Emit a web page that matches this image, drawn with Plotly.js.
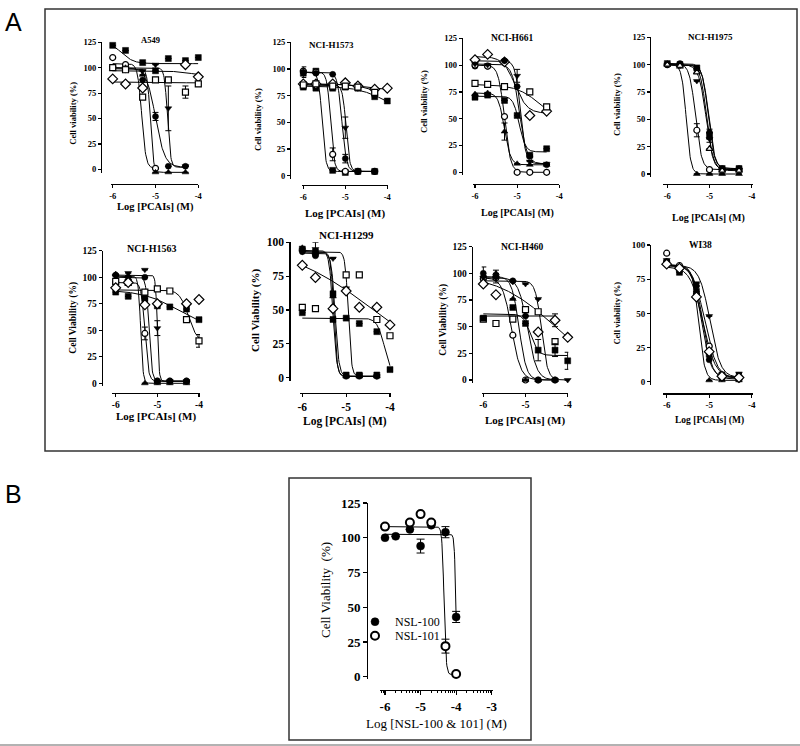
<!DOCTYPE html>
<html><head><meta charset="utf-8">
<script src="https://cdn.plot.ly/plotly-3.0.1.min.js"></script>
<style>html,body{margin:0;padding:0;background:#fff}#chart{width:800px;height:746px}</style>
</head><body><div id="chart"></div>
<script>
// ---------------- DATA ----------------
const N = null;
const doses = [-6, -5.7, -5.3, -5, -4.7, -4.3, -4];
const xTickVals = [-6, -5, -4];
const xTickText = ['-6', '-5', '-4'];
const xTickValsB = [-6, -5, -4, -3];
const xTickTextB = ['-6', '-5', '-4', '-3'];
const yTickVals125 = [0, 25, 50, 75, 100, 125];
const yTickText125 = ['0', '25', '50', '75', '100', '125'];
const yTickVals100 = [0, 25, 50, 75, 100];
const yTickText100 = ['0', '25', '50', '75', '100'];
const panelTitles = ['A549', 'NCI-H1573', 'NCI-H661', 'NCI-H1975', 'NCI-H1563', 'NCI-H1299', 'NCI-H460', 'WI38'];
const yTitles = ['Cell viability (%)', 'Cell viability (%)', 'Cell viability (%)', 'Cell viability (%)',
                 'Cell Viability (%)', 'Cell Viability (%)', 'Cell Viability (%)', 'Cell viability (%)'];
const xTitleA = 'Log [PCAIs] (M)';
const xTitleB = 'Log [NSL-100 & 101] (M)';
const yTitleB = 'Cell Viability  (%)';
const seriesB = ['NSL-100', 'NSL-101'];

// fit parameters: [top, bottom, logIC50, hill]
const A549_y = [[122,117,105,97,109,107,110],[110,103,80,1,N,N,N],[99,100,93,-3,-3,-3,N],[100,98,88,52,3,3,N],
                [100,100,97,103,60,3,N],[89,84,80,N,N,103,91],[100,98,71,88,88,76,84]];
const A549_err = [[N,N,N,N,N,N,N],[N,N,N,N,N,N,N],[N,N,N,N,N,N,N],[N,N,N,4,N,N,N],
                  [N,N,N,N,22,N,N],[N,N,N,N,N,N,N],[N,N,N,N,N,6,N]];
const A549_fit = [[126,104,-5.8,3],[104,1,-5.32,9],[99,-3,-5.12,12],[100,2,-5.0,4],
                  [100,2,-4.72,12],[97,92,-4.2,2],[86,85,-5,1]];
const A549_sym = ['fsq','oci','ftu','fci','ftd','odi','osq'];

const H1573_y = [[96,98,5,3,4,4,N],[98,97,20,4,4,4,N],[97,96,95,16,4,4,N],[85,85,85,45,4,4,N],
                 [83,82,82,83,82,74,70],[86,86,86,87,84,81,82],[85,86,84,84,83,78,N]];
const H1573_err = [[N,N,N,N,N,N,N],[N,N,6,N,N,N,N],[5,N,N,4,N,N,N],[N,N,N,10,N,N,N],
                   [N,N,N,N,N,N,N],[N,N,N,N,N,N,N],[N,N,N,N,N,N,N]];
const H1573_fit = [[97,4,-5.55,10],[97,4,-5.35,10],[97,4,-5.08,8],[85,4,-4.98,10],
                   [84,55,-4.0,1.2],[86,80,-4.5,1.5],[86,76,-4.4,2]];
const H1573_sym = ['fsq','oci','fci','ftd','fsq','odi','osq'];

const H661_y = [[105,110,103,N,53,57,N],[99,99,104,80,15,7,N],[83,82,80,N,75,61,N],[70,72,67,53,16,22,N],
                [73,74,38,8,7,7,N],[100,99,52,0,0,0,N],[101,100,104,90,10,8,N]];
const H661_err = [[N,N,N,N,N,N,N],[N,N,N,N,N,N,N],[N,N,N,N,N,N,N],[N,N,N,N,N,N,N],
                  [N,N,8,N,N,N,N],[N,N,N,N,N,N,N],[N,N,N,6,N,N,N]];
const H661_fit = [[108,55,-5.05,3],[101,8,-4.94,5],[82,45,-4.45,1.5],[71,19,-4.95,6],
                  [74,7,-5.3,6],[100,0,-5.3,6],[104,8,-4.92,7]];
const H661_sym = ['odi','fci','osq','fsq','ftu','oci','ftd'];

const H1975_y = [[101,98,0,0,0,0,N],[100,100,40,4,4,4,N],[100,99,85,32,4,4,N],[101,100,97,35,5,5,N],
                 [100,101,96,38,5,5,N],[100,99,93,23,3,3,N]];
const H1975_err = [[N,N,N,N,N,N,N],[N,N,6,N,N,N,N],[N,N,N,N,N,N,N],[N,N,N,6,N,N,N],
                   [N,N,N,N,N,N,N],[N,N,N,N,N,N,N]];
const H1975_fit = [[100,0,-5.55,8],[101,4,-5.33,6],[100,4,-5.07,6],[101,5,-5.03,6],
                   [100,5,-5.02,6],[100,3,-5.08,5]];
const H1975_sym = ['ftu','oci','ftd','fsq','fci','otu'];

const H1563_y = [[103,101,0,0,0,0,N],[95,95,47,2,2,2,N],[102,100,100,2,2,2,N],[101,104,107,52,2,2,N],
                 [86,82,80,73,72,70,60],[96,95,86,89,87,60,40],[90,95,74,75,N,75,79]];
const H1563_err = [[N,N,N,N,N,N,N],[N,N,6,N,N,N,N],[N,N,N,N,N,N,N],[N,N,N,7,N,N,N],
                   [N,N,N,N,N,N,N],[N,N,N,N,N,N,6],[N,N,N,N,N,N,N]];
const H1563_fit = [[101,0,-5.4,15],[95,2,-5.3,10],[100,2,-5.2,12],[102,2,-5.0,20],
                   [88,50,-4.5,1],[88,38,-4.25,4],N];
const H1563_sym = ['ftu','oci','fci','ftd','fsq','osq','odi'];

const H1299_y = [[95,93,62,2,2,2,N],[93,95,88,66,2,1,N],[96,92,60,1,1,1,N],[93,90,52,1,1,1,N],
                 [83,74,51,64,52,52,39],[52,51,N,76,76,43,31],[48,N,43,44,40,34,6]];
const H1299_err = [[N,N,N,N,N,N,N],[N,5,N,N,N,N,N],[N,N,N,N,N,N,N],[N,N,N,N,N,N,N],
                   [N,N,N,N,N,N,N],[N,N,N,N,N,N,N],[N,N,N,N,N,N,N]];
const H1299_fit = [[94,1,-5.3,10],[93,1,-4.95,12],[93,1,-5.28,12],[92,1,-5.25,10],
                   [100,0,-4.37,0.42],N,[44,0,-4.12,5]];
const H1299_sym = ['fsq','ftd','ftu','fci','odi','osq','fsq'];

const H460_y = [[95,96,42,0,0,0,N],[98,100,76,0,0,0,N],[100,97,93,60,0,0,N],[57,53,57,66,64,36,N],
                [58,N,68,53,28,28,18],[96,96,92,90,76,0,0],[90,80,N,N,45,56,40]];
const H460_err = [[N,N,N,N,N,N,N],[N,N,N,N,N,N,N],[6,6,N,N,N,N,N],[N,N,N,N,N,N,N],
                  [N,N,N,N,10,6,8],[N,N,N,N,N,N,N],[N,N,N,N,N,6,N]];
const H460_fit = [[96,0,-5.33,4],[97,0,-5.15,5],[96,0,-4.95,4],[60,60,-5,1],
                  [62,23,-4.88,5],[93,0,-4.62,6],[100,0,-4.29,0.62]];
const H460_sym = ['oci','ftu','fci','osq','fsq','ftd','odi'];

const WI38_y = [[94,85,64,26,3,2,N],[88,82,63,1,1,1,N],[89,84,72,48,5,6,N],[88,82,70,16,3,2,N],
                [87,80,66,20,5,3,N],[86,83,62,22,4,3,N]];
const WI38_err = [[N,N,N,N,N,N,N],[N,N,N,N,N,N,N],[N,N,N,N,N,N,N],[N,N,N,N,N,N,N],
                  [N,N,N,N,N,N,N],[N,N,N,N,N,N,N]];
const WI38_fit = [[86,2,-5.1,3],[85,1,-5.25,6],[85,3,-4.98,3.5],[85,2,-5.15,4],
                  [85,3,-5.18,4],[84,3,-5.15,3]];
const WI38_sym = ['oci','ftu','ftd','fci','fsq','odi'];

const B_y = [[100,101,106,94,109,104,43],[108,N,111,117,111,22,2]];
const B_err = [[N,N,N,5,N,4,4],[N,N,N,N,N,5,N]];
const B_fit = [[102.5,0,-4.007,20],[108,1.5,-4.34,15]];
const B_sym = ['fci','oci'];

// ---------------- STYLE / GEOMETRY ----------------
const W = 800, H = 746;
const SERIF = 'Liberation Serif, Times New Roman, serif';
const SANS = 'Liberation Sans, Arial, sans-serif';
const SYM = {
  fsq:{symbol:'square', fill:'#000'}, osq:{symbol:'square', fill:'#fff'},
  fci:{symbol:'circle', fill:'#000'}, oci:{symbol:'circle', fill:'#fff'},
  ftu:{symbol:'triangle-up', fill:'#000'}, otu:{symbol:'triangle-up', fill:'#fff'},
  ftd:{symbol:'triangle-down', fill:'#000'}, odi:{symbol:'diamond', fill:'#fff'}
};
const PANELS = [
  {y:A549_y, e:A549_err, fit:A549_fit, s:A549_sym,
   g:{yx:101, ytop:42.3, y0:169.3, ybot:173, xly:184, xs:111, xe:198.3, xa:112.7, xb:198.3, top:125},
   f:{tick:8.5, xt:10.5, yt:8.5, pt:8.5}, t:{yx:72.7, yy:113, xx:155.5, xy:207, px:150, py:40}},
  {y:H1573_y, e:H1573_err, fit:H1573_fit, s:H1573_sym,
   g:{yx:290, ytop:42.3, y0:175.7, ybot:178.5, xly:185, xs:301.7, xe:388, xa:303.3, xb:387.3, top:125},
   f:{tick:8.5, xt:11, yt:8.5, pt:9}, t:{yx:258, yy:120, xx:345, xy:213, px:331.7, py:45}},
  {y:H661_y, e:H661_err, fit:H661_fit, s:H661_sym,
   g:{yx:461.7, ytop:38.3, y0:172.3, ybot:175, xly:184, xs:473, xe:559.3, xa:475, xb:559.3, top:125},
   f:{tick:8.5, xt:10, yt:8.5, pt:9.5}, t:{yx:424, yy:102, xx:517, xy:213, px:511.7, py:38}},
  {y:H1975_y, e:H1975_err, fit:H1975_fit, s:H1975_sym,
   g:{yx:650, ytop:37.3, y0:174, ybot:177, xly:184, xs:663, xe:752.7, xa:667.3, xb:751.7, top:125},
   f:{tick:8.5, xt:10, yt:8.5, pt:9}, t:{yx:617, yy:105, xx:708, xy:218, px:710, py:36.7}},
  {y:H1563_y, e:H1563_err, fit:H1563_fit, s:H1563_sym,
   g:{yx:101.7, ytop:250.7, y0:383.3, ybot:386, xly:392.7, xs:111.7, xe:200, xa:115.7, xb:199, top:125},
   f:{tick:9.5, xt:11, yt:9.5, pt:10}, t:{yx:72.7, yy:318, xx:156, xy:416.7, px:151.7, py:248.3}},
  {y:H1299_y, e:H1299_err, fit:H1299_fit, s:H1299_sym,
   g:{yx:289.3, ytop:242.3, y0:377.7, ybot:381, xly:392.7, xs:300, xe:390.7, xa:302.3, xb:390, top:100},
   f:{tick:11.5, xt:11.5, yt:11, pt:11}, t:{yx:255, yy:310, xx:345, xy:421.7, px:346.7, py:235}},
  {y:H460_y, e:H460_err, fit:H460_fit, s:H460_sym,
   g:{yx:471.7, ytop:246.7, y0:380, ybot:383, xly:392.7, xs:481.7, xe:568.3, xa:483.3, xb:567.7, top:125},
   f:{tick:9.5, xt:11, yt:9.5, pt:9.5}, t:{yx:442.7, yy:320, xx:525, xy:420, px:521.7, py:247.3}},
  {y:WI38_y, e:WI38_err, fit:WI38_fit, s:WI38_sym,
   g:{yx:650, ytop:245, y0:381.7, ybot:385, xly:393.3, xs:663.3, xe:752.7, xa:666.7, xb:751.7, top:100},
   f:{tick:9, xt:9.5, yt:8.5, pt:9.5}, t:{yx:617.3, yy:313.3, xx:709, xy:420, px:700, py:245}}
];
const PB = {y:B_y, e:B_err, fit:B_fit, s:B_sym,
   g:{yx:367, ytop:503, y0:676.7, ybot:678.5, xly:690, xs:380, xe:493, xa:385, xb:491.7, va:-6, vb:-3, top:125},
   f:{tick:13, xt:13, yt:13}, t:{yx:325, yy:590, xx:436, xy:723}};

// ---------------- BUILD ----------------
const px2x = p => p / W;
const px2y = p => 1 - p / H;
function fourPL(p, x) { return p[1] + (p[0] - p[1]) / (1 + Math.pow(10, (x - p[2]) * p[3])); }

const legendStyle = (ypx) => ({x:px2x(355), y:px2y(ypx), xanchor:'left', yanchor:'middle',
  bgcolor:'rgba(0,0,0,0)', borderwidth:0, font:{family:SERIF, size:12, color:'#000'}, itemwidth:30});

const traces = [];
const layout = {
  width: W, height: H, margin:{l:0, r:0, t:0, b:0},
  paper_bgcolor:'#fff', plot_bgcolor:'rgba(0,0,0,0)',
  showlegend:true, annotations:[], shapes:[],
  legend: legendStyle(621.7),
  legend2: legendStyle(635.7)
};

function addPanel(P, k, opts) {
  const g = P.g;
  const va = g.va !== undefined ? g.va : -6, vb = g.vb !== undefined ? g.vb : -4;
  const ppx = (g.xb - g.xa) / (vb - va);
  const xr = [va - (g.xa - g.xs) / ppx, vb + (g.xe - g.xb) / ppx];
  const ppy = (g.y0 - g.ytop) / g.top;
  const yr = [-(g.ybot - g.y0) / ppy, g.top];
  const xn = 'xaxis' + (k > 1 ? k : ''), yn = 'yaxis' + (k > 1 ? k : '');
  const xid = 'x' + (k > 1 ? k : ''), yid = 'y' + (k > 1 ? k : '');
  const tickFont = {family:SERIF, size:P.f.tick, color:'#000', weight:'bold'};
  layout[xn] = {domain:[px2x(g.xs), px2x(g.xe)], range:xr, anchor:'free', position:px2y(g.xly),
    showline:true, linecolor:'#000', linewidth:1.3, ticks:'outside', ticklen:opts.ticklen, tickwidth:1.2,
    tickcolor:'#000', tickmode:'array', tickvals:opts.xtv, ticktext:opts.xtt, tickfont:tickFont,
    showgrid:false, zeroline:false, fixedrange:true};
  if (opts.minor) layout[xn].minor = opts.minor;
  layout[yn] = {domain:[px2y(g.ybot), px2y(g.ytop)], range:yr, anchor:'free', position:px2x(g.yx),
    showline:true, linecolor:'#000', linewidth:1.3, ticks:'outside', ticklen:opts.ticklen, tickwidth:1.2,
    tickcolor:'#000', tickmode:'array', tickvals:g.top === 100 ? yTickVals100 : yTickVals125,
    ticktext:g.top === 100 ? yTickText100 : yTickText125, tickfont:tickFont,
    showgrid:false, zeroline:false, fixedrange:true};
  P.y.forEach((ys, i) => {
    const p = P.fit[i];
    if (!p) return;
    const idx = ys.map((v, j) => v === null ? -1 : j).filter(j => j >= 0);
    const x0 = doses[idx[0]], x1 = doses[idx[idx.length - 1]];
    const cx = [], cy = [];
    for (let x = x0; x <= x1 + 1e-9; x += 0.01) { cx.push(x); cy.push(fourPL(p, x)); }
    traces.push({type:'scatter', mode:'lines', x:cx, y:cy, xaxis:xid, yaxis:yid,
      line:{color:'#000', width:1}, showlegend:false, hoverinfo:'skip'});
  });
  P.y.forEach((ys, i) => {
    const st = SYM[P.s[i]];
    const tr = {type:'scatter', mode:'markers', x:doses, y:ys, xaxis:xid, yaxis:yid, cliponaxis:false,
      marker:{symbol:st.symbol, size:(P.s[i] === 'odi' ? opts.ms + 1.5 : opts.ms), color:st.fill,
              line:{color:'#000', width:st.fill === '#fff' ? opts.ow : 0.5}},
      error_y:{type:'data', array:P.e[i], visible:true, color:'#000', thickness:1, width:opts.cap},
      showlegend:false, hoverinfo:'skip'};
    if (opts.names) { tr.name = opts.names[i]; tr.showlegend = true; tr.legend = i === 0 ? 'legend' : 'legend2'; }
    traces.push(tr);
  });
  const t = P.t;
  const ann = (x, y, text, size, bold, angle) => layout.annotations.push({xref:'paper', yref:'paper',
    x:px2x(x), y:px2y(y), text:text, showarrow:false, xanchor:'center', yanchor:'middle', textangle:angle || 0,
    font:{family:SERIF, size:size, color:'#000', weight:bold ? 'bold' : 'normal'}});
  ann(t.yx, t.yy, opts.ytitle, P.f.yt, opts.bold, -90);
  ann(t.xx, t.xy, opts.xtitle, P.f.xt, opts.bold, 0);
  if (opts.ptitle) ann(t.px, t.py, opts.ptitle, P.f.pt, true, 0);
}

PANELS.forEach((P, i) => addPanel(P, i + 1, {ticklen:3, xtv:xTickVals, xtt:xTickText, ms:6, ow:1.2, cap:3,
  ytitle:yTitles[i], xtitle:xTitleA, ptitle:panelTitles[i], bold:true}));

const minorVals = [];
[-7, -6, -5, -4].forEach(d => { for (let m = 2; m <= 9; m++) minorVals.push(d + Math.log10(m)); });
addPanel(PB, 9, {ticklen:4, xtv:xTickValsB, xtt:xTickTextB, ms:8, ow:2, cap:4,
  minor:{tickmode:'array', tickvals:minorVals, ticks:'outside', ticklen:2, tickwidth:1, tickcolor:'#000'},
  ytitle:yTitleB, xtitle:xTitleB, bold:false, names:seriesB});

layout.annotations.push({xref:'paper', yref:'paper', x:px2x(13), y:px2y(22), text:'A', showarrow:false,
  xanchor:'center', yanchor:'middle', font:{family:SANS, size:25, color:'#000'}});
layout.annotations.push({xref:'paper', yref:'paper', x:px2x(13), y:px2y(494), text:'B', showarrow:false,
  xanchor:'center', yanchor:'middle', font:{family:SANS, size:25, color:'#000'}});
layout.shapes.push({type:'rect', xref:'paper', yref:'paper', x0:px2x(45), x1:px2x(797), y0:px2y(451), y1:px2y(9),
  line:{color:'#333', width:1.5}});
layout.shapes.push({type:'rect', xref:'paper', yref:'paper', x0:px2x(289), x1:px2x(531), y0:px2y(740), y1:px2y(478),
  line:{color:'#333', width:1.5}});
layout.shapes.push({type:'line', xref:'paper', yref:'paper', x0:0, x1:1, y0:px2y(745), y1:px2y(745),
  line:{color:'#999', width:1.5}});

Plotly.newPlot('chart', traces, layout, {staticPlot:true, displayModeBar:false});
</script></body></html>
